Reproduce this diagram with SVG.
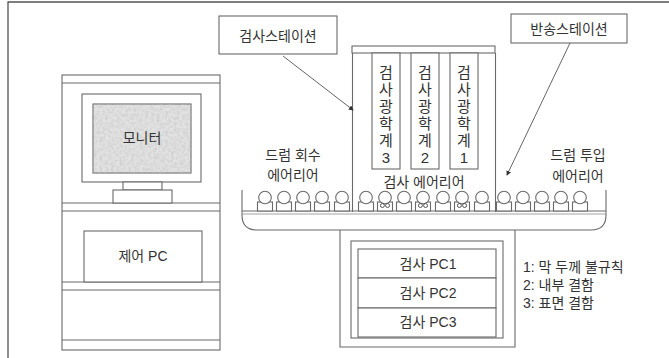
<svg xmlns="http://www.w3.org/2000/svg" width="669" height="358" viewBox="0 0 669 358">
  <style>
    .ln { fill: none; stroke: #6a6a6a; stroke-width: 1.1; }
    .bx { fill: #fff; stroke: #6a6a6a; stroke-width: 1.1; }
    .tx { font-family: "Liberation Sans", "Noto Sans CJK KR", sans-serif; font-size: 14px; fill: #333; text-anchor: middle; dominant-baseline: central; }
    .lg { font-family: "Liberation Sans", "Noto Sans CJK KR", sans-serif; font-size: 14px; fill: #333; dominant-baseline: central; }
    .col { font-family: "Liberation Sans", "Noto Sans CJK KR", sans-serif; font-size: 15px; fill: #333; text-anchor: middle; dominant-baseline: central; }
  </style>
  <defs>
    <filter id="grain" x="0" y="0" width="100%" height="100%">
      <feTurbulence type="fractalNoise" baseFrequency="0.35" numOctaves="2" seed="4"/>
      <feColorMatrix type="matrix" values="0 0 0 0 0.55  0 0 0 0 0.55  0 0 0 0 0.55  0 0 0 1.6 -0.55"/>
      <feComposite in2="SourceGraphic" operator="in"/>
    </filter>
    <marker id="tip" viewBox="0 0 6 6" refX="5" refY="3" markerWidth="5" markerHeight="5" orient="auto">
      <path d="M0,0 L6,3 L0,6 z" fill="#333"/>
    </marker>
    <!-- drum on the conveyor: round head on a short body -->
    <g id="drum">
      <rect x="-7.5" y="-9" width="15" height="9" class="bx"/>
      <circle cx="0" cy="-13.5" r="6.3" class="bx"/>
    </g>
    <g id="lens">
      <circle cx="-2.6" cy="-5.5" r="2" fill="none" stroke="#555" stroke-width="1"/>
      <circle cx="2.6" cy="-5.5" r="2" fill="none" stroke="#555" stroke-width="1"/>
    </g>
  </defs>

  <rect width="669" height="358" fill="#fff"/>
  <!-- frame -->
  <path d="M8,358 V2 H669" fill="none" stroke="#555" stroke-width="1.3"/>

  <!-- control cabinet -->
  <g id="cabinet">
    <rect x="62" y="75" width="158" height="275" class="bx"/>
    <line x1="62" y1="83" x2="220" y2="83" class="ln"/>
    <line x1="62" y1="203" x2="220" y2="203" class="ln"/>
    <line x1="62" y1="211" x2="220" y2="211" class="ln"/>
    <line x1="62" y1="282" x2="220" y2="282" class="ln"/>
    <line x1="62" y1="290" x2="220" y2="290" class="ln"/>
    <line x1="62" y1="340" x2="220" y2="340" class="ln"/>
  </g>
  <g id="monitor">
    <rect x="82" y="94" width="119" height="88" class="bx"/>
    <rect x="93" y="104" width="98" height="69" fill="#e2e2e2" stroke="#6a6a6a" stroke-width="1.1"/>
    <rect x="93" y="104" width="98" height="69" fill="#fff" filter="url(#grain)" opacity="0.8"/>
    <rect x="123" y="182" width="39" height="8" class="bx"/>
    <rect x="113" y="190" width="59" height="13" class="bx"/>
    <text x="142" y="138" class="tx">모니터</text>
  </g>
  <g id="control-pc">
    <rect x="84" y="231" width="118" height="51" class="bx"/>
    <text x="143" y="256" class="tx">제어 PC</text>
  </g>

  <!-- inspection station -->
  <g id="inspection-station">
    <rect x="352" y="46" width="143" height="7" class="bx"/>
    <line x1="352.5" y1="53" x2="352.5" y2="212" class="ln"/>
    <line x1="495.5" y1="53" x2="495.5" y2="212" class="ln"/>
    <text x="424" y="182" class="tx" font-size="15">검사 에어리어</text>
  </g>
  <g id="optics-3">
    <rect x="372" y="53" width="28" height="116" class="bx"/>
    <text class="col"><tspan x="386" y="72">검</tspan><tspan x="386" y="89">사</tspan><tspan x="386" y="106">광</tspan><tspan x="386" y="123">학</tspan><tspan x="386" y="140">계</tspan><tspan x="386" y="157">3</tspan></text>
  </g>
  <g id="optics-2">
    <rect x="411" y="53" width="28" height="116" class="bx"/>
    <text class="col"><tspan x="425" y="72">검</tspan><tspan x="425" y="89">사</tspan><tspan x="425" y="106">광</tspan><tspan x="425" y="123">학</tspan><tspan x="425" y="140">계</tspan><tspan x="425" y="157">2</tspan></text>
  </g>
  <g id="optics-1">
    <rect x="450" y="53" width="28" height="116" class="bx"/>
    <text class="col"><tspan x="464" y="72">검</tspan><tspan x="464" y="89">사</tspan><tspan x="464" y="106">광</tspan><tspan x="464" y="123">학</tspan><tspan x="464" y="140">계</tspan><tspan x="464" y="157">1</tspan></text>
  </g>

  <!-- conveyor with drums -->
  <g id="conveyor">
    <path d="M242,190 V215 Q242,230 257,230 H591 Q606,230 606,215 V190" class="ln"/>
    <line x1="242" y1="211" x2="606" y2="211" class="ln"/>
    <line x1="242" y1="214" x2="606" y2="214" stroke="#999" stroke-width="0.9"/>
    <use href="#drum" x="265" y="211"/>
    <use href="#drum" x="284" y="211"/>
    <use href="#drum" x="303" y="211"/>
    <use href="#drum" x="322" y="211"/>
    <use href="#drum" x="342" y="211"/>
    <use href="#drum" x="366" y="211"/>
    <use href="#drum" x="385" y="211"/>
    <use href="#drum" x="404" y="211"/>
    <use href="#drum" x="423" y="211"/>
    <use href="#drum" x="443" y="211"/>
    <use href="#drum" x="462" y="211"/>
    <use href="#drum" x="482" y="211"/>
    <use href="#lens" x="385" y="211"/>
    <use href="#lens" x="423" y="211"/>
    <use href="#lens" x="462" y="211"/>
    <use href="#drum" x="504" y="211"/>
    <use href="#drum" x="523" y="211"/>
    <use href="#drum" x="542" y="211"/>
    <use href="#drum" x="561" y="211"/>
    <use href="#drum" x="580" y="211"/>
  </g>
  <g id="area-labels">
    <text x="293" y="155" class="tx">드럼 회수</text>
    <text x="293" y="175" class="tx">에어리어</text>
    <text x="578" y="155" class="tx">드럼 투입</text>
    <text x="578" y="176" class="tx">에어리어</text>
  </g>

  <!-- inspection PCs -->
  <g id="pc-rack">
    <path d="M340,230 V347 H515 V230" class="ln"/>
    <rect x="351" y="241" width="152" height="97" class="bx"/>
  </g>
  <g id="pc1">
    <rect x="358" y="249" width="138" height="29" class="bx"/>
    <text x="428" y="264" class="tx">검사 PC1</text>
  </g>
  <g id="pc2">
    <rect x="358" y="278" width="138" height="30" class="bx"/>
    <text x="428" y="293" class="tx">검사 PC2</text>
  </g>
  <g id="pc3">
    <rect x="358" y="308" width="138" height="29" class="bx"/>
    <text x="428" y="322" class="tx">검사 PC3</text>
  </g>

  <!-- callouts -->
  <g id="callout-inspection">
    <rect x="219" y="16" width="118" height="38" class="bx"/>
    <text x="278" y="36" class="tx">검사스테이션</text>
  </g>
  <g id="callout-transfer">
    <rect x="511" y="14" width="116" height="29" class="bx"/>
    <text x="569" y="29" class="tx">반송스테이션</text>
  </g>
  <g id="connectors">
    <line x1="283" y1="56" x2="353" y2="110" stroke="#666" stroke-width="1" marker-end="url(#tip)"/>
    <line x1="570" y1="43" x2="507" y2="175" stroke="#666" stroke-width="1" marker-end="url(#tip)"/>
  </g>

  <!-- legend -->
  <g id="legend">
    <text x="523" y="267" class="lg">1: 막 두께 불규칙</text>
    <text x="523" y="285" class="lg">2: 내부 결함</text>
    <text x="523" y="303" class="lg">3: 표면 결함</text>
  </g>
</svg>
